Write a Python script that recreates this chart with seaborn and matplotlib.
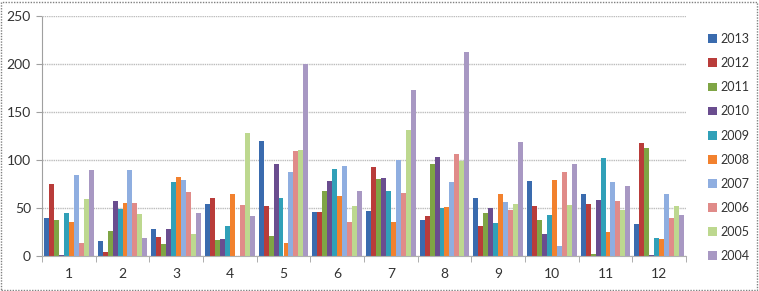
import matplotlib
matplotlib.use("Agg")
import matplotlib.pyplot as plt
import seaborn as sns
import pandas as pd
import numpy as np
from matplotlib.patches import Rectangle

months = ["1", "2", "3", "4", "5", "6", "7", "8", "9", "10", "11", "12"]
years = ["2013", "2012", "2011", "2010", "2009", "2008", "2007", "2006", "2005", "2004"]

y2013 = [40, 16, 28, 54, 120, 46, 47, 37, 60, 78, 65, 33]
y2012 = [75, 4, 20, 60, 52, 46, 93, 42, 31, 52, 54, 118]
y2011 = [37, 26, 13, 17, 21, 68, 80, 96, 45, 38, 2, 112]
y2010 = [1, 57, 28, 18, 96, 78, 81, 103, 50, 23, 58, 1]
y2009 = [45, 49, 77, 31, 60, 91, 68, 50, 34, 43, 102, 19]
y2008 = [35, 55, 82, 65, 14, 63, 35, 51, 65, 79, 25, 18]
y2007 = [84, 90, 79, 0, 87, 94, 100, 77, 56, 10, 77, 65]
y2006 = [14, 55, 67, 53, 109, 35, 66, 106, 48, 87, 57, 40]
y2005 = [59, 44, 23, 128, 110, 52, 131, 99, 54, 53, 48, 52]
y2004 = [90, 19, 45, 42, 200, 68, 173, 212, 119, 96, 73, 43]

series = [y2013, y2012, y2011, y2010, y2009, y2008, y2007, y2006, y2005, y2004]

colors = ["#3A6BAE", "#B93C3A", "#7FA545", "#6A4D8F", "#30A0B8",
          "#F2812E", "#8FAEE0", "#E08B89", "#BDD88F", "#A898C3"]

rows = []
for yr, vals in zip(years, series):
    for m, v in zip(months, vals):
        rows.append({"month": m, "year": yr, "value": v})
df = pd.DataFrame(rows)

sns.set_style("white")
plt.rcParams["font.family"] = ["Lato", "DejaVu Sans"]

fig = plt.figure(figsize=(7.59, 2.91), dpi=100)
ax = fig.add_axes([42 / 759, 35 / 291, (686 - 42) / 759, 240 / 291])

sns.barplot(data=df, x="month", y="value", hue="year", order=months,
            hue_order=years, palette=colors, width=0.92, saturation=1,
            ax=ax, linewidth=0, legend=True)

ax.set_ylim(0, 250)
ax.set_xlim(-0.5, 11.5)
ax.set_yticks(np.arange(0, 251, 50))
ax.set_xlabel("")
ax.set_ylabel("")
ax.grid(axis="y", color="#BDBDBD", linewidth=1.0, linestyle=(0, (1, 0.6)))
ax.set_axisbelow(True)
for s in ["top", "right"]:
    ax.spines[s].set_visible(False)
ax.spines["left"].set_color("#A0A0A0")
ax.spines["left"].set_linestyle((0, (1, 1)))
ax.spines["bottom"].set_color("#B0B0B0")
ax.tick_params(axis="y", length=4, color="#A0A0A0", labelsize=10,
               labelcolor="#333333", pad=4, left=True)
ax.tick_params(axis="x", length=0, labelsize=10, labelcolor="#333333", pad=9)
ax.set_xticks(np.arange(-0.5, 12, 1), minor=True)
ax.tick_params(axis="x", which="minor", length=4, color="#A0A0A0", bottom=True)

leg = ax.legend(loc="upper left", bbox_to_anchor=(703 / 759, 1 - 28 / 291),
                bbox_transform=fig.transFigure, frameon=False,
                fontsize=9, handlelength=0.7, handleheight=0.7,
                handletextpad=0.3, labelspacing=0.97, borderaxespad=0)
for t in leg.get_texts():
    t.set_color("#333333")

fig.patches.append(Rectangle((1 / 759, 1 / 291), 756 / 759, 288 / 291,
                             transform=fig.transFigure, fill=False,
                             edgecolor="#808080", linewidth=1.0,
                             linestyle=(0, (1, 1))))

fig.savefig("out.png", dpi=100)
